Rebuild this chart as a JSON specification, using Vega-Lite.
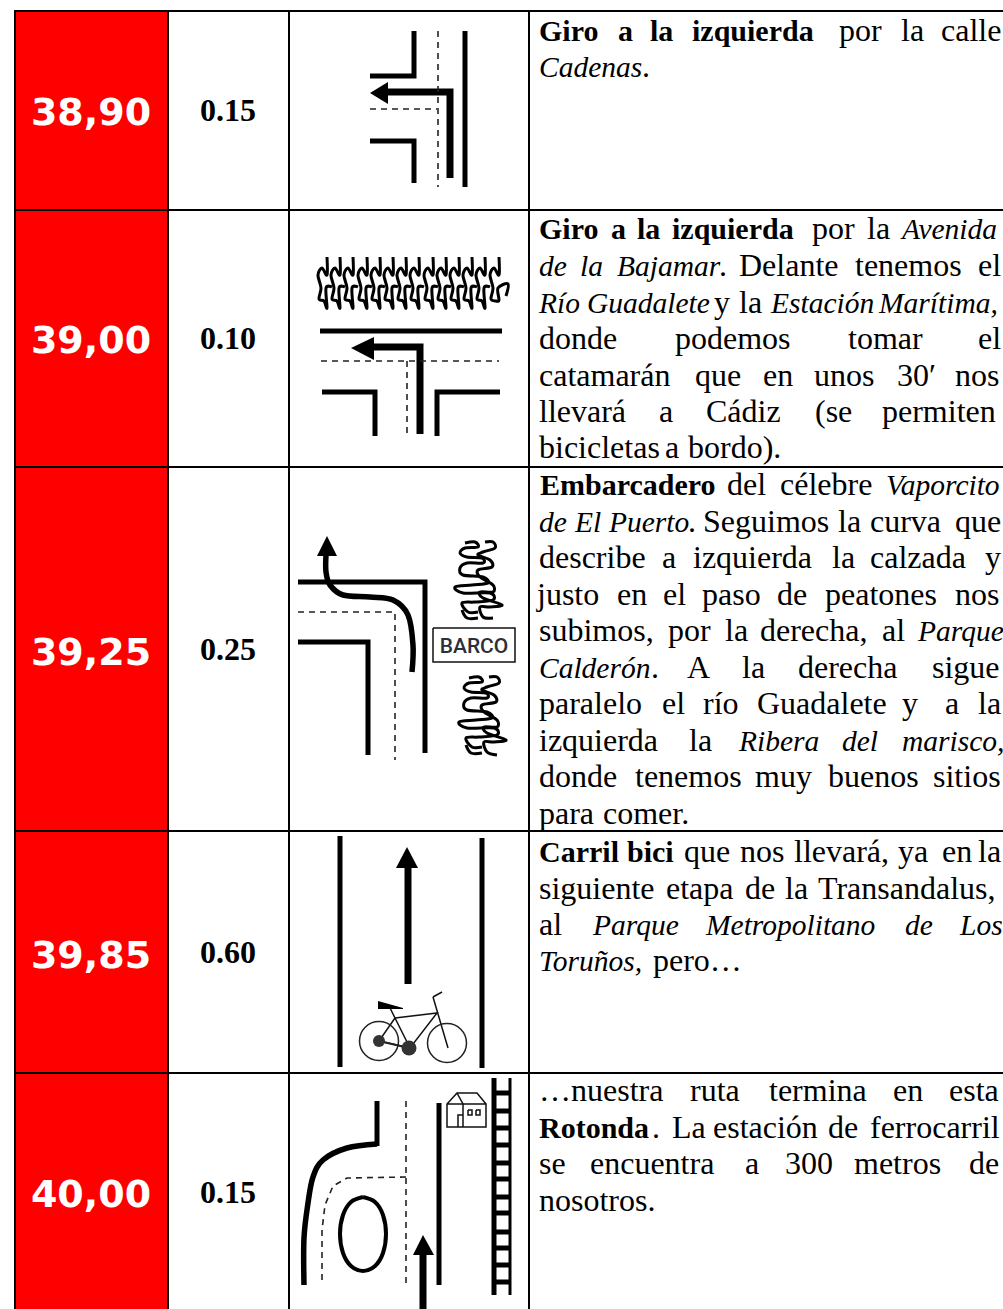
{
"$schema":"https://vega.github.io/schema/vega-lite/v6.json",
"width":1003,"height":1309,"padding":0,"autosize":{"type":"none"},"background":"#ffffff",
"config":{"view":{"stroke":null}},
"datasets":{
"celdas":[{"x":15,"x2":168,"y":11,"y2":1309}],
"reglas":[
{"x":15,"x2":1003,"y":11,"y2":11},{"x":15,"x2":1003,"y":210,"y2":210},{"x":15,"x2":1003,"y":467,"y2":467},{"x":15,"x2":1003,"y":831,"y2":831},{"x":15,"x2":1003,"y":1073,"y2":1073},
{"x":15,"x2":15,"y":10,"y2":1309},{"x":168,"x2":168,"y":10,"y2":1309},{"x":289,"x2":289,"y":10,"y2":1309},{"x":529,"x2":529,"y":10,"y2":1309}],
"km":[{"t":"38,90","x":91,"y":125},{"t":"39,00","x":91,"y":353},{"t":"39,25","x":91,"y":665},{"t":"39,85","x":91,"y":968},{"t":"40,00","x":91,"y":1207}],
"parcial":[{"t":"0.15","x":228,"y":121},{"t":"0.10","x":228,"y":349},{"t":"0.25","x":228,"y":660},{"t":"0.60","x":228,"y":963},{"t":"0.15","x":228,"y":1203}],
"texto":[
{"e":"b","t":"Giro","x":539,"y":40},{"e":"b","t":"a","x":618,"y":40},{"e":"b","t":"la","x":650,"y":40},{"e":"b","t":"izquierda","x":692,"y":40},{"e":"n","t":"por","x":839,"y":40},{"e":"n","t":"la","x":901,"y":40},{"e":"n","t":"calle","x":941,"y":40},
{"e":"i","t":"Cadenas","x":539,"y":76},{"e":"n","t":".","x":642,"y":76},
{"e":"b","t":"Giro","x":539,"y":238},{"e":"b","t":"a","x":611,"y":238},{"e":"b","t":"la","x":637,"y":238},{"e":"b","t":"izquierda","x":672,"y":238},{"e":"n","t":"por","x":812,"y":238},{"e":"n","t":"la","x":867,"y":238},{"e":"i","t":"Avenida","x":902,"y":238},
{"e":"i","t":"de","x":539,"y":275},{"e":"i","t":"la","x":580,"y":275},{"e":"i","t":"Bajamar","x":617,"y":275},{"e":"n","t":".","x":719,"y":275},{"e":"n","t":"Delante","x":739,"y":275},{"e":"n","t":"tenemos","x":855,"y":275},{"e":"n","t":"el","x":978,"y":275},
{"e":"i","t":"Río","x":539,"y":312},{"e":"i","t":"Guadalete","x":587,"y":312},{"e":"n","t":"y","x":714,"y":312},{"e":"n","t":"la","x":739,"y":312},{"e":"i","t":"Estación","x":771,"y":312},{"e":"i","t":"Marítima,","x":879,"y":312},
{"e":"n","t":"donde","x":539,"y":348},{"e":"n","t":"podemos","x":675,"y":348},{"e":"n","t":"tomar","x":848,"y":348},{"e":"n","t":"el","x":978,"y":348},
{"e":"n","t":"catamarán","x":539,"y":385},{"e":"n","t":"que","x":695,"y":385},{"e":"n","t":"en","x":763,"y":385},{"e":"n","t":"unos","x":814,"y":385},{"e":"n","t":"30′","x":897,"y":385},{"e":"n","t":"nos","x":955,"y":385},
{"e":"n","t":"llevará","x":539,"y":421},{"e":"n","t":"a","x":659,"y":421},{"e":"n","t":"Cádiz","x":706,"y":421},{"e":"n","t":"(se","x":815,"y":421},{"e":"n","t":"permiten","x":882,"y":421},
{"e":"n","t":"bicicletas","x":539,"y":457},{"e":"n","t":"a","x":665,"y":457},{"e":"n","t":"bordo).","x":688,"y":457},
{"e":"b","t":"Embarcadero","x":540,"y":494},{"e":"n","t":"del","x":727,"y":494},{"e":"n","t":"célebre","x":780,"y":494},{"e":"i","t":"Vaporcito","x":886,"y":494},
{"e":"i","t":"de","x":539,"y":531},{"e":"i","t":"El","x":575,"y":531},{"e":"i","t":"Puerto","x":609,"y":531},{"e":"n","t":".","x":688,"y":531},{"e":"n","t":"Seguimos","x":703,"y":531},{"e":"n","t":"la","x":838,"y":531},{"e":"n","t":"curva","x":870,"y":531},{"e":"n","t":"que","x":955,"y":531},
{"e":"n","t":"describe","x":539,"y":567},{"e":"n","t":"a","x":662,"y":567},{"e":"n","t":"izquierda","x":693,"y":567},{"e":"n","t":"la","x":832,"y":567},{"e":"n","t":"calzada","x":870,"y":567},{"e":"n","t":"y","x":985,"y":567},
{"e":"n","t":"justo","x":537,"y":604},{"e":"n","t":"en","x":617,"y":604},{"e":"n","t":"el","x":663,"y":604},{"e":"n","t":"paso","x":702,"y":604},{"e":"n","t":"de","x":777,"y":604},{"e":"n","t":"peatones","x":825,"y":604},{"e":"n","t":"nos","x":955,"y":604},
{"e":"n","t":"subimos,","x":539,"y":640},{"e":"n","t":"por","x":668,"y":640},{"e":"n","t":"la","x":725,"y":640},{"e":"n","t":"derecha,","x":760,"y":640},{"e":"n","t":"al","x":882,"y":640},{"e":"i","t":"Parque","x":918,"y":640},
{"e":"i","t":"Calderón","x":539,"y":677},{"e":"n","t":".","x":651,"y":677},{"e":"n","t":"A","x":687,"y":677},{"e":"n","t":"la","x":742,"y":677},{"e":"n","t":"derecha","x":798,"y":677},{"e":"n","t":"sigue","x":932,"y":677},
{"e":"n","t":"paralelo","x":539,"y":713},{"e":"n","t":"el","x":662,"y":713},{"e":"n","t":"río","x":703,"y":713},{"e":"n","t":"Guadalete","x":757,"y":713},{"e":"n","t":"y","x":902,"y":713},{"e":"n","t":"a","x":945,"y":713},{"e":"n","t":"la","x":978,"y":713},
{"e":"n","t":"izquierda","x":539,"y":750},{"e":"n","t":"la","x":689,"y":750},{"e":"i","t":"Ribera","x":739,"y":750},{"e":"i","t":"del","x":842,"y":750},{"e":"i","t":"marisco,","x":902,"y":750},
{"e":"n","t":"donde","x":539,"y":786},{"e":"n","t":"tenemos","x":635,"y":786},{"e":"n","t":"muy","x":755,"y":786},{"e":"n","t":"buenos","x":828,"y":786},{"e":"n","t":"sitios","x":933,"y":786},
{"e":"n","t":"para","x":539,"y":823},{"e":"n","t":"comer.","x":603,"y":823},
{"e":"b","t":"Carril","x":539,"y":861},{"e":"b","t":"bici","x":627,"y":861},{"e":"n","t":"que","x":684,"y":861},{"e":"n","t":"nos","x":740,"y":861},{"e":"n","t":"llevará,","x":794,"y":861},{"e":"n","t":"ya","x":898,"y":861},{"e":"n","t":"en","x":942,"y":861},{"e":"n","t":"la","x":978,"y":861},
{"e":"n","t":"siguiente","x":539,"y":898},{"e":"n","t":"etapa","x":666,"y":898},{"e":"n","t":"de","x":745,"y":898},{"e":"n","t":"la","x":785,"y":898},{"e":"n","t":"Transandalus,","x":818,"y":898},
{"e":"n","t":"al","x":539,"y":934},{"e":"i","t":"Parque","x":593,"y":934},{"e":"i","t":"Metropolitano","x":706,"y":934},{"e":"i","t":"de","x":905,"y":934},{"e":"i","t":"Los","x":960,"y":934},
{"e":"i","t":"Toruños,","x":539,"y":970},{"e":"n","t":"pero…","x":653,"y":970},
{"e":"n","t":"…nuestra","x":539,"y":1100},{"e":"n","t":"ruta","x":690,"y":1100},{"e":"n","t":"termina","x":769,"y":1100},{"e":"n","t":"en","x":893,"y":1100},{"e":"n","t":"esta","x":949,"y":1100},
{"e":"b","t":"Rotonda","x":539,"y":1137},{"e":"n","t":".","x":652,"y":1137},{"e":"n","t":"La","x":672,"y":1137},{"e":"n","t":"estación","x":713,"y":1137},{"e":"n","t":"de","x":828,"y":1137},{"e":"n","t":"ferrocarril","x":870,"y":1137},
{"e":"n","t":"se","x":539,"y":1173},{"e":"n","t":"encuentra","x":590,"y":1173},{"e":"n","t":"a","x":745,"y":1173},{"e":"n","t":"300","x":785,"y":1173},{"e":"n","t":"metros","x":854,"y":1173},{"e":"n","t":"de","x":969,"y":1173},
{"e":"n","t":"nosotros.","x":539,"y":1210}],
"barco":[{"t":"BARCO","x":474,"y":653}],
"via5":[
{"s":"a","x":370,"y":76},{"s":"a","x":414,"y":76},{"s":"a","x":414,"y":31},
{"s":"b","x":370,"y":141},{"s":"b","x":414,"y":141},{"s":"b","x":414,"y":183},
{"s":"c","x":465,"y":31},{"s":"c","x":465,"y":187},
{"s":"d","x":320,"y":331},{"s":"d","x":502,"y":331},
{"s":"e","x":322,"y":392},{"s":"e","x":375,"y":392},{"s":"e","x":375,"y":436},
{"s":"f","x":500,"y":392},{"s":"f","x":437,"y":392},{"s":"f","x":437,"y":436},
{"s":"g","x":298,"y":582},{"s":"g","x":425,"y":582},{"s":"g","x":425,"y":753},
{"s":"h","x":298,"y":642},{"s":"h","x":368,"y":642},{"s":"h","x":368,"y":755},
{"s":"i","x":340,"y":836},{"s":"i","x":340,"y":1067},
{"s":"j","x":482,"y":838},{"s":"j","x":482,"y":1068},
{"s":"k","x":377,"y":1101},{"s":"k","x":377,"y":1146},
{"s":"l","x":439,"y":1103},{"s":"l","x":439,"y":1285},
{"s":"m","x":494,"y":1078},{"s":"m","x":494,"y":1295},
{"s":"n","x":493,"y":1093},{"s":"n","x":511,"y":1093},{"s":"o","x":493,"y":1111},{"s":"o","x":511,"y":1111},{"s":"p","x":493,"y":1128},{"s":"p","x":511,"y":1128},{"s":"q","x":493,"y":1145},{"s":"q","x":511,"y":1145},{"s":"r","x":493,"y":1163},{"s":"r","x":511,"y":1163},{"s":"t","x":493,"y":1179},{"s":"t","x":511,"y":1179},{"s":"u","x":493,"y":1197},{"s":"u","x":511,"y":1197},{"s":"v","x":493,"y":1213},{"s":"v","x":511,"y":1213},{"s":"w","x":493,"y":1232},{"s":"w","x":511,"y":1232},{"s":"y","x":493,"y":1248},{"s":"y","x":511,"y":1248},{"s":"z","x":493,"y":1265},{"s":"z","x":511,"y":1265},{"s":"aa","x":493,"y":1282},{"s":"aa","x":511,"y":1282}],
"flecha":[
{"s":"a","x":450,"y":178},{"s":"a","x":450,"y":92},{"s":"a","x":388,"y":92},
{"s":"b","x":420,"y":434},{"s":"b","x":420,"y":347},{"s":"b","x":374,"y":347},
{"s":"c","x":408,"y":984},{"s":"c","x":408,"y":868},
{"s":"d","x":423,"y":1309},{"s":"d","x":423,"y":1255}],
"riel":[{"s":"a","x":510,"y":1078},{"s":"a","x":510,"y":1295}],
"curvaGruesa":[
{"s":"a","x":412,"y":672},{"s":"a","x":413,"y":645},{"s":"a","x":408,"y":615},{"s":"a","x":393,"y":600},{"s":"a","x":370,"y":597},{"s":"a","x":343,"y":595},{"s":"a","x":330,"y":585},{"s":"a","x":326,"y":572},{"s":"a","x":326,"y":555},
{"s":"b","x":377,"y":1144},{"s":"b","x":347,"y":1148},{"s":"b","x":323,"y":1160},{"s":"b","x":313,"y":1177},{"s":"b","x":308,"y":1203},{"s":"b","x":304,"y":1238},{"s":"b","x":304,"y":1285}],
"ovalo":[{"x":363,"y":1197},{"x":375,"y":1202},{"x":383,"y":1215},{"x":386,"y":1234},{"x":383,"y":1253},{"x":375,"y":1266},{"x":363,"y":1271},{"x":351,"y":1266},{"x":343,"y":1253},{"x":340,"y":1234},{"x":343,"y":1215},{"x":351,"y":1202},{"x":363,"y":1197}],
"discontinua":[
{"s":"a","x":438,"y":31},{"s":"a","x":438,"y":187},
{"s":"b","x":370,"y":109},{"s":"b","x":437,"y":109},
{"s":"c","x":321,"y":361},{"s":"c","x":499,"y":361},
{"s":"d","x":407,"y":361},{"s":"d","x":407,"y":438},
{"s":"e","x":298,"y":612},{"s":"e","x":395,"y":612},{"s":"e","x":395,"y":760},
{"s":"f","x":406,"y":1101},{"s":"f","x":406,"y":1285},
{"s":"g","x":406,"y":1177},{"s":"g","x":347,"y":1178},{"s":"g","x":333,"y":1186},{"s":"g","x":325,"y":1205},{"s":"g","x":322,"y":1230},{"s":"g","x":322,"y":1280}],
"puntas":[
{"s":"a","x":370,"y":93,"y2":93},{"s":"a","x":388,"y":82,"y2":104},
{"s":"b","x":351,"y":348,"y2":348},{"s":"b","x":374,"y":337,"y2":360},
{"s":"c","x":378,"y":1001,"y2":1009},{"s":"c","x":403,"y":1008,"y2":1009}],
"puntasArriba":[
{"s":"a","y":536,"x":327,"x2":327},{"s":"a","y":556,"x":317,"x2":337},
{"s":"b","y":847,"x":407,"x2":407},{"s":"b","y":868,"x":396,"x2":418},
{"s":"c","y":1235,"x":423,"x2":423},{"s":"c","y":1255,"x":413,"x2":434}],
"fino":[
{"s":"a","x":390,"y":1008},{"s":"a","x":410,"y":1048},
{"s":"b","x":395,"y":1018},{"s":"b","x":437,"y":1013},{"s":"b","x":410,"y":1048},{"s":"b","x":379,"y":1041},{"s":"b","x":395,"y":1018},
{"s":"c","x":433,"y":997},{"s":"c","x":448,"y":1048},
{"s":"d","x":433,"y":997},{"s":"d","x":442,"y":992},
{"s":"e","x":447,"y":1104},{"s":"e","x":486,"y":1104},{"s":"e","x":486,"y":1127},{"s":"e","x":447,"y":1127},{"s":"e","x":447,"y":1104},{"s":"e","x":457,"y":1093},{"s":"e","x":477,"y":1093},{"s":"e","x":486,"y":1104},
{"s":"f","x":457,"y":1093},{"s":"f","x":463,"y":1104},{"s":"f","x":463,"y":1127},
{"s":"g","x":458,"y":1127},{"s":"g","x":458,"y":1115},{"s":"g","x":463,"y":1115},
{"s":"h","x":468,"y":1110},{"s":"h","x":472,"y":1110},{"s":"h","x":472,"y":1115},{"s":"h","x":468,"y":1115},{"s":"h","x":468,"y":1110},
{"s":"i","x":476,"y":1110},{"s":"i","x":480,"y":1110},{"s":"i","x":480,"y":1115},{"s":"i","x":476,"y":1115},{"s":"i","x":476,"y":1110},
{"s":"j","x":433,"y":628},{"s":"j","x":515,"y":628},{"s":"j","x":515,"y":662},{"s":"j","x":433,"y":662},{"s":"j","x":433,"y":628}],
"ruedas":[{"x":379,"y":1041},{"x":447,"y":1043}],
"buje":[{"x":379,"y":1041}],
"plato":[{"x":409,"y":1048}],
"cadena":[{"x":379,"y":1041},{"x":409,"y":1048}],
"ondas":[
{"s":"a","x":327,"y":257},{"s":"a","x":327,"y":275},{"s":"a","x":322,"y":268},{"s":"a","x":318,"y":275},{"s":"a","x":321,"y":288},{"s":"a","x":319,"y":299},{"s":"a","x":324,"y":301},{"s":"a","x":327,"y":308},{"s":"a","x":326,"y":288},{"s":"a","x":332,"y":287},
{"s":"b","x":340,"y":257},{"s":"b","x":340,"y":275},{"s":"b","x":335,"y":268},{"s":"b","x":331,"y":275},{"s":"b","x":334,"y":288},{"s":"b","x":332,"y":299},{"s":"b","x":337,"y":301},{"s":"b","x":340,"y":308},{"s":"b","x":339,"y":288},{"s":"b","x":345,"y":287},
{"s":"c","x":353,"y":257},{"s":"c","x":353,"y":275},{"s":"c","x":348,"y":268},{"s":"c","x":344,"y":275},{"s":"c","x":347,"y":288},{"s":"c","x":345,"y":299},{"s":"c","x":350,"y":301},{"s":"c","x":353,"y":308},{"s":"c","x":352,"y":288},{"s":"c","x":358,"y":287},
{"s":"d","x":367,"y":257},{"s":"d","x":367,"y":275},{"s":"d","x":362,"y":268},{"s":"d","x":358,"y":275},{"s":"d","x":361,"y":288},{"s":"d","x":359,"y":299},{"s":"d","x":364,"y":301},{"s":"d","x":367,"y":308},{"s":"d","x":366,"y":288},{"s":"d","x":372,"y":287},
{"s":"e","x":380,"y":257},{"s":"e","x":380,"y":275},{"s":"e","x":375,"y":268},{"s":"e","x":371,"y":275},{"s":"e","x":374,"y":288},{"s":"e","x":372,"y":299},{"s":"e","x":377,"y":301},{"s":"e","x":380,"y":308},{"s":"e","x":379,"y":288},{"s":"e","x":385,"y":287},
{"s":"f","x":393,"y":257},{"s":"f","x":393,"y":275},{"s":"f","x":388,"y":268},{"s":"f","x":384,"y":275},{"s":"f","x":387,"y":288},{"s":"f","x":385,"y":299},{"s":"f","x":390,"y":301},{"s":"f","x":393,"y":308},{"s":"f","x":392,"y":288},{"s":"f","x":398,"y":287},
{"s":"g","x":406,"y":257},{"s":"g","x":406,"y":275},{"s":"g","x":401,"y":268},{"s":"g","x":397,"y":275},{"s":"g","x":400,"y":288},{"s":"g","x":398,"y":299},{"s":"g","x":403,"y":301},{"s":"g","x":406,"y":308},{"s":"g","x":405,"y":288},{"s":"g","x":411,"y":287},
{"s":"h","x":419,"y":257},{"s":"h","x":419,"y":275},{"s":"h","x":414,"y":268},{"s":"h","x":410,"y":275},{"s":"h","x":413,"y":288},{"s":"h","x":411,"y":299},{"s":"h","x":416,"y":301},{"s":"h","x":419,"y":308},{"s":"h","x":418,"y":288},{"s":"h","x":424,"y":287},
{"s":"i","x":433,"y":257},{"s":"i","x":433,"y":275},{"s":"i","x":428,"y":268},{"s":"i","x":424,"y":275},{"s":"i","x":427,"y":288},{"s":"i","x":425,"y":299},{"s":"i","x":430,"y":301},{"s":"i","x":433,"y":308},{"s":"i","x":432,"y":288},{"s":"i","x":438,"y":287},
{"s":"j","x":446,"y":257},{"s":"j","x":446,"y":275},{"s":"j","x":441,"y":268},{"s":"j","x":437,"y":275},{"s":"j","x":440,"y":288},{"s":"j","x":438,"y":299},{"s":"j","x":443,"y":301},{"s":"j","x":446,"y":308},{"s":"j","x":445,"y":288},{"s":"j","x":451,"y":287},
{"s":"k","x":459,"y":257},{"s":"k","x":459,"y":275},{"s":"k","x":454,"y":268},{"s":"k","x":450,"y":275},{"s":"k","x":453,"y":288},{"s":"k","x":451,"y":299},{"s":"k","x":456,"y":301},{"s":"k","x":459,"y":308},{"s":"k","x":458,"y":288},{"s":"k","x":464,"y":287},
{"s":"l","x":472,"y":257},{"s":"l","x":472,"y":275},{"s":"l","x":467,"y":268},{"s":"l","x":463,"y":275},{"s":"l","x":466,"y":288},{"s":"l","x":464,"y":299},{"s":"l","x":469,"y":301},{"s":"l","x":472,"y":308},{"s":"l","x":471,"y":288},{"s":"l","x":477,"y":287},
{"s":"m","x":485,"y":257},{"s":"m","x":485,"y":275},{"s":"m","x":480,"y":268},{"s":"m","x":476,"y":275},{"s":"m","x":479,"y":288},{"s":"m","x":477,"y":299},{"s":"m","x":482,"y":301},{"s":"m","x":485,"y":308},{"s":"m","x":484,"y":288},{"s":"m","x":490,"y":287},
{"s":"n","x":499,"y":257},{"s":"n","x":499,"y":275},{"s":"n","x":494,"y":268},{"s":"n","x":490,"y":275},{"s":"n","x":493,"y":288},{"s":"n","x":491,"y":299},{"s":"n","x":496,"y":301},{"s":"n","x":499,"y":300},{"s":"n","x":498,"y":288},{"s":"n","x":508,"y":284},{"s":"n","x":506,"y":296},
{"s":"p","x":465,"y":543},{"s":"p","x":475,"y":542},{"s":"p","x":478,"y":547},{"s":"p","x":465,"y":548},{"s":"p","x":460,"y":553},{"s":"p","x":467,"y":557},{"s":"p","x":482,"y":558},{"s":"p","x":483,"y":563},{"s":"p","x":467,"y":563},{"s":"p","x":460,"y":568},{"s":"p","x":463,"y":575},{"s":"p","x":483,"y":577},{"s":"p","x":488,"y":583},{"s":"p","x":472,"y":585},{"s":"p","x":455,"y":587},{"s":"p","x":463,"y":593},{"s":"p","x":490,"y":593},{"s":"p","x":493,"y":600},{"s":"p","x":475,"y":602},{"s":"p","x":462,"y":603},{"s":"p","x":468,"y":612},{"s":"p","x":478,"y":612},
{"s":"q","x":485,"y":542},{"s":"q","x":493,"y":542},{"s":"q","x":495,"y":548},{"s":"q","x":483,"y":552},{"s":"q","x":478,"y":555},{"s":"q","x":490,"y":560},{"s":"q","x":492,"y":567},{"s":"q","x":478,"y":570},{"s":"q","x":480,"y":577},{"s":"q","x":493,"y":585},{"s":"q","x":493,"y":592},{"s":"q","x":480,"y":592},{"s":"q","x":483,"y":598},{"s":"q","x":502,"y":605},{"s":"q","x":490,"y":607},{"s":"q","x":480,"y":607},{"s":"q","x":483,"y":617},{"s":"q","x":493,"y":618},
{"s":"r","x":462,"y":610},{"s":"r","x":467,"y":618},{"s":"r","x":478,"y":618},
{"s":"t","x":469,"y":678},{"s":"t","x":479,"y":677},{"s":"t","x":482,"y":682},{"s":"t","x":469,"y":683},{"s":"t","x":464,"y":688},{"s":"t","x":471,"y":692},{"s":"t","x":486,"y":693},{"s":"t","x":487,"y":698},{"s":"t","x":471,"y":698},{"s":"t","x":464,"y":703},{"s":"t","x":467,"y":710},{"s":"t","x":487,"y":712},{"s":"t","x":492,"y":718},{"s":"t","x":476,"y":720},{"s":"t","x":459,"y":722},{"s":"t","x":467,"y":728},{"s":"t","x":494,"y":728},{"s":"t","x":497,"y":735},{"s":"t","x":479,"y":737},{"s":"t","x":466,"y":738},{"s":"t","x":472,"y":747},{"s":"t","x":482,"y":747},
{"s":"u","x":489,"y":677},{"s":"u","x":497,"y":677},{"s":"u","x":499,"y":683},{"s":"u","x":487,"y":687},{"s":"u","x":482,"y":690},{"s":"u","x":494,"y":695},{"s":"u","x":496,"y":702},{"s":"u","x":482,"y":705},{"s":"u","x":484,"y":712},{"s":"u","x":497,"y":720},{"s":"u","x":497,"y":727},{"s":"u","x":484,"y":727},{"s":"u","x":487,"y":733},{"s":"u","x":506,"y":740},{"s":"u","x":494,"y":742},{"s":"u","x":484,"y":742},{"s":"u","x":487,"y":752},{"s":"u","x":497,"y":755},
{"s":"v","x":466,"y":745},{"s":"v","x":471,"y":753},{"s":"v","x":482,"y":753}]
},
"encoding":{
"x":{"field":"x","type":"quantitative","scale":{"domain":[0,1003],"nice":false,"zero":false},"axis":null},
"y":{"field":"y","type":"quantitative","scale":{"domain":[0,1309],"reverse":true,"nice":false,"zero":false},"axis":null}
},
"layer":[
{"data":{"name":"celdas"},"mark":{"type":"rect","fill":"#ff0000"},"encoding":{"x2":{"field":"x2"},"y2":{"field":"y2"}}},
{"data":{"name":"reglas"},"mark":{"type":"rule","stroke":"#000000","strokeWidth":2},"encoding":{"x2":{"field":"x2"},"y2":{"field":"y2"}}},
{"data":{"name":"km"},"mark":{"type":"text","font":"DejaVu Sans","fontWeight":"bold","fontSize":38,"fill":"#ffffff","align":"center","baseline":"alphabetic"},"encoding":{"text":{"field":"t"}}},
{"data":{"name":"parcial"},"mark":{"type":"text","font":"Liberation Serif","fontWeight":"bold","fontSize":32,"fill":"#000000","align":"center","baseline":"alphabetic"},"encoding":{"text":{"field":"t"}}},
{"data":{"name":"texto"},"transform":[{"filter":"datum.e==='n'"}],"mark":{"type":"text","font":"Liberation Serif","fontSize":32,"dy":1,"fill":"#000000","align":"left","baseline":"alphabetic"},"encoding":{"text":{"field":"t"}}},
{"data":{"name":"texto"},"transform":[{"filter":"datum.e==='b'"}],"mark":{"type":"text","font":"Liberation Serif","fontWeight":"bold","fontSize":30,"dy":1,"fill":"#000000","align":"left","baseline":"alphabetic"},"encoding":{"text":{"field":"t"}}},
{"data":{"name":"texto"},"transform":[{"filter":"datum.e==='i'"}],"mark":{"type":"text","font":"Liberation Serif","fontStyle":"italic","fontSize":29.5,"dy":1,"fill":"#000000","align":"left","baseline":"alphabetic"},"encoding":{"text":{"field":"t"}}},
{"data":{"name":"barco"},"mark":{"type":"text","font":"Roboto","fontWeight":500,"fontSize":21,"fill":"#2b2f3a","align":"center","baseline":"alphabetic"},"encoding":{"text":{"field":"t"}}},
{"data":{"name":"via5"},"transform":[{"window":[{"op":"row_number","as":"i"}]}],"mark":{"type":"line","stroke":"#000000","strokeWidth":5,"strokeJoin":"miter"},"encoding":{"detail":{"field":"s"},"order":{"field":"i","type":"quantitative"}}},
{"data":{"name":"flecha"},"transform":[{"window":[{"op":"row_number","as":"i"}]}],"mark":{"type":"line","stroke":"#000000","strokeWidth":7,"strokeJoin":"miter"},"encoding":{"detail":{"field":"s"},"order":{"field":"i","type":"quantitative"}}},
{"data":{"name":"riel"},"transform":[{"window":[{"op":"row_number","as":"i"}]}],"mark":{"type":"line","stroke":"#000000","strokeWidth":3},"encoding":{"detail":{"field":"s"},"order":{"field":"i","type":"quantitative"}}},
{"data":{"name":"curvaGruesa"},"transform":[{"window":[{"op":"row_number","as":"i"}]}],"mark":{"type":"line","stroke":"#000000","strokeWidth":5.5,"interpolate":"cardinal"},"encoding":{"detail":{"field":"s"},"order":{"field":"i","type":"quantitative"}}},
{"data":{"name":"ovalo"},"transform":[{"window":[{"op":"row_number","as":"i"}]}],"mark":{"type":"line","stroke":"#000000","strokeWidth":4,"interpolate":"cardinal"},"encoding":{"order":{"field":"i","type":"quantitative"}}},
{"data":{"name":"discontinua"},"transform":[{"window":[{"op":"row_number","as":"i"}]}],"mark":{"type":"line","stroke":"#222222","strokeWidth":1.6,"strokeDash":[6,5]},"encoding":{"detail":{"field":"s"},"order":{"field":"i","type":"quantitative"}}},
{"data":{"name":"puntas"},"mark":{"type":"area","fill":"#000000"},"encoding":{"detail":{"field":"s"},"y2":{"field":"y2"}}},
{"data":{"name":"puntasArriba"},"mark":{"type":"area","fill":"#000000","orient":"horizontal"},"encoding":{"detail":{"field":"s"},"x2":{"field":"x2"}}},
{"data":{"name":"fino"},"transform":[{"window":[{"op":"row_number","as":"i"}]}],"mark":{"type":"line","stroke":"#111111","strokeWidth":1.5},"encoding":{"detail":{"field":"s"},"order":{"field":"i","type":"quantitative"}}},
{"data":{"name":"cadena"},"transform":[{"window":[{"op":"row_number","as":"i"}]}],"mark":{"type":"line","stroke":"#222222","strokeWidth":2},"encoding":{"order":{"field":"i","type":"quantitative"}}},
{"data":{"name":"ruedas"},"mark":{"type":"point","filled":false,"stroke":"#222222","strokeWidth":1.5,"size":1521,"opacity":1},"encoding":{}},
{"data":{"name":"buje"},"mark":{"type":"point","filled":true,"fill":"#333333","size":144,"opacity":1},"encoding":{}},
{"data":{"name":"plato"},"mark":{"type":"point","filled":true,"fill":"#333333","size":225,"opacity":1},"encoding":{}},
{"data":{"name":"ondas"},"transform":[{"window":[{"op":"row_number","as":"i"}]}],"mark":{"type":"line","stroke":"#000000","strokeWidth":3,"interpolate":"cardinal"},"encoding":{"detail":{"field":"s"},"order":{"field":"i","type":"quantitative"}}}
]
}
